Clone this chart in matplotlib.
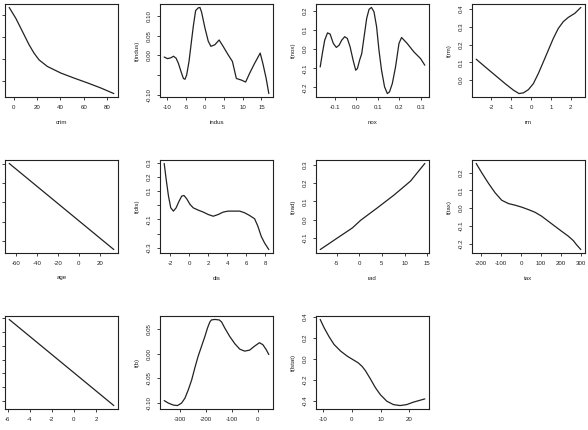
import matplotlib
matplotlib.use("Agg")
import matplotlib.pyplot as plt

plt.rcParams['font.family'] = ['Liberation Sans', 'DejaVu Sans']
plt.rcParams['axes.unicode_minus'] = False

# ---------------- data (partial effects) ----------------
crim_x = [-3.7, 2.0, 7.7, 13.3, 17.5, 21.8, 28.9, 40.3, 51.6, 63.0, 74.3, 85.6]
crim_y = [0.335, 0.285, 0.224, 0.164, 0.126, 0.095, 0.065, 0.035, 0.012, -0.010, -0.033, -0.059]

indus_x = [-10.78, -9.90, -9.03, -8.32, -7.62, -7.01, -6.31, -5.69, -5.26, -4.82, -4.20, -3.50,
           -3.06, -2.45, -1.75, -1.31, -0.87, 0.0, 0.89, 1.59, 2.64, 3.78, 4.83, 6.15, 7.29,
           8.34, 9.66, 10.80, 11.85, 13.17, 14.66, 15.36, 16.24, 16.94]
indus_y = [-0.004, -0.008, -0.006, -0.002, -0.007, -0.020, -0.041, -0.058, -0.060, -0.049, -0.015,
           0.040, 0.074, 0.113, 0.120, 0.121, 0.109, 0.070, 0.036, 0.023, 0.027, 0.039, 0.023,
           0.002, -0.015, -0.058, -0.062, -0.067, -0.045, -0.020, 0.006, -0.020, -0.058, -0.096]

nox_x = [-0.168, -0.158, -0.147, -0.134, -0.122, -0.107, -0.093, -0.080, -0.068, -0.054, -0.042,
         -0.029, -0.015, -0.003, 0.005, 0.015, 0.025, 0.036, 0.048, 0.059, 0.070, 0.082, 0.094,
         0.105, 0.117, 0.131, 0.144, 0.154, 0.167, 0.182, 0.198, 0.210, 0.236, 0.267, 0.298, 0.318]
nox_y = [-0.093, -0.023, 0.047, 0.085, 0.079, 0.030, 0.009, 0.021, 0.047, 0.065, 0.056, 0.012,
         -0.058, -0.110, -0.101, -0.058, -0.023, 0.065, 0.161, 0.208, 0.218, 0.195, 0.117,
         -0.005, -0.110, -0.197, -0.232, -0.223, -0.180, -0.093, 0.030, 0.061, 0.030, -0.014,
         -0.049, -0.084]

rm_x = [-2.75, -2.30, -1.80, -1.30, -0.88, -0.60, -0.38, -0.13, 0.12, 0.37, 0.62, 0.87, 1.12,
        1.37, 1.62, 1.87, 2.20, 2.50]
rm_y = [0.118, 0.075, 0.028, -0.019, -0.056, -0.075, -0.071, -0.053, -0.019, 0.038, 0.103, 0.169,
        0.235, 0.291, 0.329, 0.353, 0.376, 0.409]

age_x = [-66.3, 33.2]
age_y = [0.2015, -0.245]

dis_x = [-2.62, -2.41, -2.17, -1.93, -1.65, -1.37, -1.06, -0.78, -0.54, -0.26, 0.09, 0.43, 0.95,
         1.48, 2.00, 2.52, 3.04, 3.56, 4.08, 4.60, 5.30, 5.82, 6.34, 6.86, 7.20, 7.55, 7.90, 8.35]
dis_y = [0.294, 0.181, 0.064, -0.019, -0.042, -0.019, 0.028, 0.064, 0.068, 0.045, 0.005, -0.019,
         -0.035, -0.049, -0.066, -0.078, -0.066, -0.049, -0.042, -0.042, -0.042, -0.054, -0.073,
         -0.096, -0.148, -0.219, -0.266, -0.313]

rad_x = [-8.68, -4.85, -1.54, 0.29, 3.97, 7.65, 11.32, 14.49]
rad_y = [-0.165, -0.101, -0.046, -0.004, 0.064, 0.134, 0.211, 0.308]

tax_x = [-225, -197, -163, -130, -97, -63, -30, 3, 37, 70, 103, 137, 170, 203, 237, 262, 278, 300]
tax_y = [0.253, 0.200, 0.140, 0.087, 0.045, 0.026, 0.017, 0.006, -0.008, -0.023, -0.045, -0.074,
         -0.102, -0.130, -0.158, -0.183, -0.206, -0.234]

ptratio_x = [-5.85, 3.61]
ptratio_y = [0.288, -0.331]

b_x = [-361, -345, -326, -310, -294, -281, -268, -255, -243, -230, -217, -204, -194, -185, -179,
       -166, -149, -140, -128, -109, -89, -70, -51, -32, -13, 6, 19, 32, 42]
b_y = [-0.095, -0.100, -0.104, -0.105, -0.100, -0.090, -0.073, -0.053, -0.029, -0.005, 0.015,
       0.035, 0.052, 0.064, 0.068, 0.069, 0.068, 0.064, 0.052, 0.035, 0.020, 0.009, 0.005, 0.007,
       0.015, 0.022, 0.018, 0.008, -0.002]

lstat_x = [-11.03, -9.66, -7.93, -6.21, -3.91, -1.61, 0.69, 2.2, 3.5, 4.71, 6.44, 8.16, 9.89,
           12.18, 14.48, 16.78, 19.08, 21.38, 25.40]
lstat_y = [0.373, 0.294, 0.209, 0.136, 0.073, 0.025, -0.013, -0.038, -0.070, -0.112, -0.190,
           -0.272, -0.339, -0.402, -0.434, -0.443, -0.434, -0.411, -0.380]

# tick values and labels
crim_xt = [0, 20, 40, 60, 80]; crim_xl = ['0', '20', '40', '60', '80']
crim_yt = [0.0, 0.1, 0.2, 0.3]
indus_xt = [-10, -5, 0, 5, 10, 15]; indus_xl = ['-10', '-5', '0', '5', '10', '15']
indus_yt = [-0.10, -0.05, 0.0, 0.05, 0.10]; indus_yl = ['-0.10', '', '0.00', '0.05', '0.10']
nox_xt = [-0.1, 0.0, 0.1, 0.2, 0.3]; nox_xl = ['-0.1', '0.0', '0.1', '0.2', '0.3']
nox_yt = [-0.2, -0.1, 0.0, 0.1, 0.2]; nox_yl = ['-0.2', '-0.1', '0.0', '0.1', '0.2']
rm_xt = [-2, -1, 0, 1, 2]; rm_xl = ['-2', '-1', '0', '1', '2']
rm_yt = [0.0, 0.1, 0.2, 0.3, 0.4]; rm_yl = ['0.0', '0.1', '0.2', '0.3', '0.4']
age_xt = [-60, -40, -20, 0, 20]; age_xl = ['-60', '-40', '-20', '0', '20']
age_yt = [-0.2, -0.1, 0.0, 0.1, 0.2]
dis_xt = [-2, 0, 2, 4, 6, 8]; dis_xl = ['-2', '0', '2', '4', '6', '8']
dis_yt = [-0.3, -0.2, -0.1, 0.0, 0.1, 0.2, 0.3]; dis_yl = ['-0.3', '', '-0.1', '', '0.1', '0.2', '0.3']
rad_xt = [-5, 0, 5, 10, 15]; rad_xl = ['-5', '0', '5', '10', '15']
rad_yt = [-0.1, 0.0, 0.1, 0.2, 0.3]; rad_yl = ['-0.1', '0.0', '0.1', '0.2', '0.3']
tax_xt = [-200, -100, 0, 100, 200, 300]; tax_xl = ['-200', '-100', '0', '100', '200', '300']
tax_yt = [-0.2, -0.1, 0.0, 0.1, 0.2]; tax_yl = ['-0.2', '-0.1', '0.0', '0.1', '0.2']
ptratio_xt = [-6, -4, -2, 0, 2]; ptratio_xl = ['-6', '-4', '-2', '0', '2']
ptratio_yt = [-0.3, -0.2, -0.1, 0.0, 0.1, 0.2, 0.3]
b_xt = [-300, -200, -100, 0]; b_xl = ['-300', '-200', '-100', '0']
b_yt = [-0.10, -0.05, 0.0, 0.05]; b_yl = ['-0.10', '-0.05', '0.00', '0.05']
lstat_xt = [-10, 0, 10, 20]; lstat_xl = ['-10', '0', '10', '20']
lstat_yt = [-0.4, -0.2, 0.0, 0.2, 0.4]; lstat_yl = ['-0.4', '-0.2', '0.0', '0.2', '0.4']

# the left column's y tick labels / y titles and the bottom row's x titles
# fall outside the cropped reference, so they are not drawn (None)
names = ['crim', 'indus', 'nox', 'rm', 'age', 'dis', 'rad', 'tax', 'ptratio', 'b', 'lstat']
panels = [
    (crim_x, crim_y, crim_xt, crim_xl, crim_yt, None),
    (indus_x, indus_y, indus_xt, indus_xl, indus_yt, indus_yl),
    (nox_x, nox_y, nox_xt, nox_xl, nox_yt, nox_yl),
    (rm_x, rm_y, rm_xt, rm_xl, rm_yt, rm_yl),
    (age_x, age_y, age_xt, age_xl, age_yt, None),
    (dis_x, dis_y, dis_xt, dis_xl, dis_yt, dis_yl),
    (rad_x, rad_y, rad_xt, rad_xl, rad_yt, rad_yl),
    (tax_x, tax_y, tax_xt, tax_xl, tax_yt, tax_yl),
    (ptratio_x, ptratio_y, ptratio_xt, ptratio_xl, ptratio_yt, None),
    (b_x, b_y, b_xt, b_xl, b_yt, b_yl),
    (lstat_x, lstat_y, lstat_xt, lstat_xl, lstat_yt, lstat_yl),
]

# ---------------- layout ----------------
W, H = 588, 430
fig = plt.figure(figsize=(W / 100, H / 100), dpi=100)
fig.patch.set_facecolor('white')

col_left = [5, 160, 316, 472]
col_w = 113
row_top = [4, 160, 316]
row_h = 93
fs = 4.4
ink = '#222222'

for i, (xs, ys, xt, xl, yt, yl) in enumerate(panels):
    r, c = divmod(i, 4)
    left = col_left[c]
    top = row_top[r]
    ax = fig.add_axes([left / W, (H - top - row_h) / H, col_w / W, row_h / H])
    ax.plot(xs, ys, color=ink, lw=0.9, solid_joinstyle='round', solid_capstyle='round')
    ax.margins(0.04)
    ax.set_xticks(xt)
    ax.set_xticklabels(xl)
    ax.set_yticks(yt)
    if yl is None:
        ax.set_yticklabels([''] * len(yt))
    else:
        ax.set_yticklabels(yl)
    ax.tick_params(axis='both', direction='out', length=2.4, width=0.6, color=ink,
                   labelsize=fs, labelcolor=ink, pad=3.2)
    ax.tick_params(axis='y', labelrotation=90)
    for lab in ax.get_yticklabels():
        lab.set_va('center')
    for s in ax.spines.values():
        s.set_linewidth(0.8)
        s.set_color(ink)
    if r < 2:
        ax.set_xlabel(names[i], fontsize=fs, color=ink)
        ax.xaxis.set_label_coords(0.5, -25 / row_h)
        ax.xaxis.label.set_va('center')
    if c > 0:
        ax.set_ylabel('f(%s)' % names[i], fontsize=fs, color=ink)
        ax.yaxis.set_label_coords(-23 / col_w, 0.5)
        ax.yaxis.label.set_va('center')
        ax.yaxis.label.set_ha('center')

fig.savefig('out.png', dpi=100, facecolor='white')
